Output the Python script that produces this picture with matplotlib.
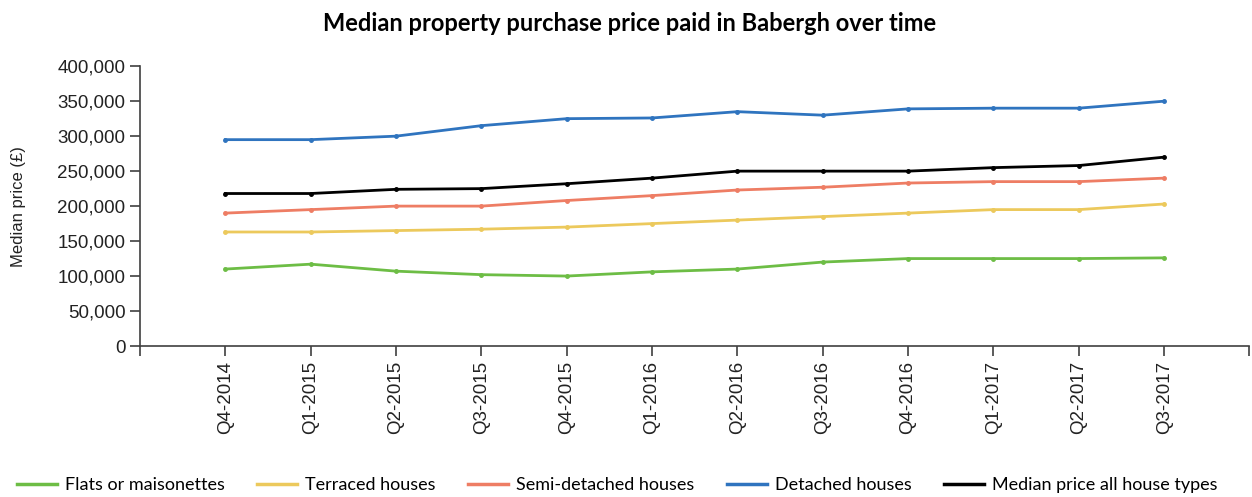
import matplotlib
matplotlib.use('Agg')
import matplotlib.pyplot as plt
from matplotlib.ticker import FuncFormatter

plt.rcParams['font.family'] = 'Liberation Sans'

# quarters shown on the x axis
quarters = ['Q4-2014', 'Q1-2015', 'Q2-2015', 'Q3-2015', 'Q4-2015', 'Q1-2016',
            'Q2-2016', 'Q3-2016', 'Q4-2016', 'Q1-2017', 'Q2-2017', 'Q3-2017']

# median prices (GBP)
flats = [110000, 117000, 107000, 102000, 100000, 106000,
         110000, 120000, 125000, 125000, 125000, 126000]
terraced = [163000, 163000, 165000, 167000, 170000, 175000,
            180000, 185000, 190000, 195000, 195000, 203000]
semi = [190000, 195000, 200000, 200000, 208000, 215000,
        223000, 227000, 233000, 235000, 235000, 240000]
detached = [295000, 295000, 300000, 315000, 325000, 326000,
            335000, 330000, 339000, 340000, 340000, 350000]
all_types = [218000, 218000, 224000, 225000, 232000, 240000,
             250000, 250000, 250000, 255000, 258000, 270000]

series = [
    ('Flats or maisonettes', flats, '#6dbd45'),
    ('Terraced houses', terraced, '#ecc95c'),
    ('Semi-detached houses', semi, '#ee7d64'),
    ('Detached houses', detached, '#2f74bf'),
    ('Median price all house types', all_types, '#000000'),
]

fig = plt.figure(figsize=(12.52, 4.97), dpi=100)
ax = fig.add_axes([0.1118, 0.3038, 0.8862, 0.563])

x = list(range(len(quarters)))
for label, vals, col in series:
    ax.plot(x, vals, color=col, lw=2, marker='o', markersize=2.5, label=label)

ax.set_xlim(-1, len(quarters))
ax.set_ylim(0, 400000)
ax.set_yticks(range(0, 400001, 50000))
ax.yaxis.set_major_formatter(FuncFormatter(lambda v, p: f'{int(v):,}'))
ax.set_xticks(range(-1, len(quarters) + 1))
ax.set_xticklabels([''] + quarters + [''], rotation=90)

for s in ['top', 'right']:
    ax.spines[s].set_visible(False)
for s in ['left', 'bottom']:
    ax.spines[s].set_color('#404040')
    ax.spines[s].set_linewidth(1.2)
ax.tick_params(axis='both', colors='#404040', length=7, width=1.2,
               labelcolor='#222222', labelsize=13.5)

ax.set_ylabel('Median price (£)', fontsize=12, color='#222222')
ax.yaxis.set_label_coords(-0.103, 0.5)

fig.suptitle('Median property purchase price paid in Babergh over time',
             fontsize=17, fontweight='bold', fontfamily='Lato', x=0.503, y=0.975)

fig.legend(loc='lower center', bbox_to_anchor=(0.493, -0.025), ncol=5, frameon=False,
           handlelength=2.2, columnspacing=1.8, handletextpad=0.45,
           prop={'family': 'Lato', 'size': 13})
for line in fig.legends[0].get_lines():
    line.set_marker('')
    line.set_linewidth(2.5)

fig.savefig('out.png', dpi=100)
